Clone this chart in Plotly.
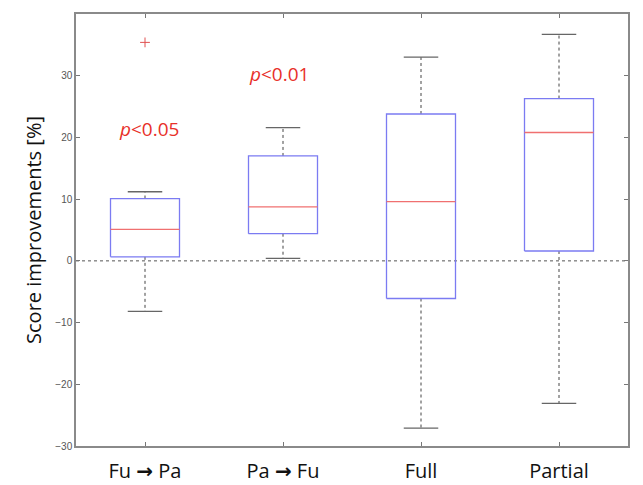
import plotly.graph_objects as go

ARROW = '<span style="font-family:DejaVu Sans;font-weight:bold">\u2192</span>'
categories = ["Fu " + ARROW + " Pa", "Pa " + ARROW + " Fu", "Full", "Partial"]
q1 = [0.65, 4.4, -6.1, 1.6]
median = [5.1, 8.75, 9.6, 20.8]
q3 = [10.1, 17.0, 23.8, 26.3]
lower_whisker = [-8.2, 0.4, -27.1, -23.1]
upper_whisker = [11.2, 21.6, 33.0, 36.7]
outlier_x = [0]
outlier_y = [35.4]
annot_text = ["<i>p</i><0.05", "<i>p</i><0.01"]
annot_x = [0.03, 0.97]
annot_y = [21.4, 30.3]
y_ticks = [-30, -20, -10, 0, 10, 20, 30]

BOX_HALF = 0.25
CAP_HALF = 0.125

fig = go.Figure()

# zero reference line
fig.add_trace(go.Scatter(x=[0.5, 4.5], y=[0, 0], mode="lines",
                         line=dict(color="#555555", width=1, dash="dot"),
                         hoverinfo="skip", showlegend=False))

for i, cat in enumerate(categories):
    xc = i + 1
    # whiskers (dotted)
    fig.add_trace(go.Scatter(x=[xc, xc, None, xc, xc],
                             y=[q3[i], upper_whisker[i], None, q1[i], lower_whisker[i]],
                             mode="lines", line=dict(color="#444444", width=1, dash="dot"),
                             hoverinfo="skip", showlegend=False))
    # caps
    fig.add_trace(go.Scatter(x=[xc - CAP_HALF, xc + CAP_HALF, None, xc - CAP_HALF, xc + CAP_HALF],
                             y=[upper_whisker[i], upper_whisker[i], None, lower_whisker[i], lower_whisker[i]],
                             mode="lines", line=dict(color="#666666", width=1.3),
                             hoverinfo="skip", showlegend=False))
    # box
    fig.add_trace(go.Scatter(x=[xc - BOX_HALF, xc + BOX_HALF, xc + BOX_HALF, xc - BOX_HALF, xc - BOX_HALF],
                             y=[q1[i], q1[i], q3[i], q3[i], q1[i]],
                             mode="lines", line=dict(color="#7b7bf2", width=1.3),
                             hoverinfo="skip", showlegend=False))
    # median
    fig.add_trace(go.Scatter(x=[xc - BOX_HALF, xc + BOX_HALF], y=[median[i], median[i]],
                             mode="lines", line=dict(color="#f07070", width=1.3),
                             hoverinfo="skip", showlegend=False))

# outliers
fig.add_trace(go.Scatter(x=[j + 1 for j in outlier_x], y=outlier_y,
                         mode="markers",
                         marker=dict(symbol="cross-thin", size=7, line=dict(color="#e05050", width=1)),
                         hoverinfo="skip", showlegend=False))

for t, xv, yv in zip(annot_text, annot_x, annot_y):
    fig.add_annotation(x=xv + 1, y=yv, text=t, showarrow=False,
                       font=dict(family="Open Sans", size=19, color="#e8302a"))

fig.update_xaxes(range=[0.5, 4.5], tickvals=[1, 2, 3, 4], ticktext=categories,
                 ticks="inside", ticklen=4, tickcolor="#777777", mirror="ticks",
                 showline=True, linecolor="#8a8a8a", linewidth=1.5, showgrid=False,
                 zeroline=False, automargin=False, ticklabelstandoff=6,
                 tickfont=dict(family="Open Sans", size=20, color="#111111"))
fig.update_yaxes(range=[-30, 40], tickvals=y_ticks,
                 ticks="inside", ticklen=4, tickcolor="#777777", mirror="ticks",
                 showline=True, linecolor="#8a8a8a", linewidth=1.5, showgrid=False,
                 zeroline=False, automargin=False,
                 tickfont=dict(family="Liberation Sans", size=10, color="#555555"),
                 title=dict(text="Score improvements [%]", standoff=8,
                            font=dict(family="Open Sans", size=20, color="#111111")))

fig.update_layout(width=643, height=485, margin=dict(l=76, r=15, t=14, b=39),
                  plot_bgcolor="white", paper_bgcolor="white")

fig.write_html("out.html")
